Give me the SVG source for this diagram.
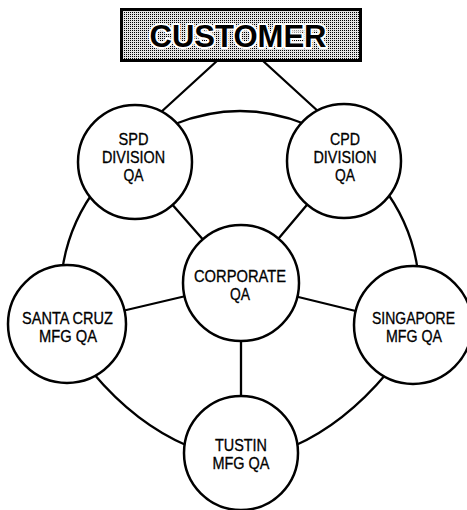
<svg xmlns="http://www.w3.org/2000/svg" width="467" height="510" viewBox="0 0 467 510">
<style>
.node{fill:#fff;stroke:#000;stroke-width:2.5}
.conn{fill:none;stroke:#000;stroke-width:2.3;stroke-linecap:round}
.lbl{font-family:"Liberation Sans",Arial,sans-serif;font-size:16px;fill:#000;stroke:#000;stroke-width:0.3;text-anchor:middle}
.title{font-family:"Liberation Sans",Arial,sans-serif;font-size:31px;font-weight:bold;fill:#000;stroke:#fff;stroke-width:4;paint-order:stroke;stroke-linejoin:round;text-anchor:middle}
</style>
<defs>
<pattern id="dots" x="0" y="0" width="2" height="2" patternUnits="userSpaceOnUse">
<rect width="2" height="2" fill="#e2e2e2"/>
<rect width="1" height="1" fill="#000"/>
</pattern>
</defs>
<rect width="467" height="510" fill="#fff"/>
<g id="connectors">
<line class="conn" x1="218" y1="60" x2="160" y2="113"/>
<line class="conn" x1="262" y1="60" x2="320" y2="113"/>
<path class="conn" d="M 175 124 Q 240 98 305 124"/>
<path class="conn" d="M 92 194 A 177 177 0 0 0 62 272"/>
<path class="conn" d="M 388 194 A 177 177 0 0 1 418 272"/>
<path class="conn" d="M 93 373 Q 136 424 188 446"/>
<path class="conn" d="M 387 373 Q 344 424 294 446"/>
<line class="conn" x1="135" y1="162" x2="241" y2="283"/>
<line class="conn" x1="344" y1="161" x2="241" y2="283"/>
<line class="conn" x1="67" y1="324" x2="241" y2="283"/>
<line class="conn" x1="413" y1="325" x2="241" y2="283"/>
<line class="conn" x1="241" y1="283" x2="241" y2="453"/>
</g>
<g id="customer">
<rect x="121.5" y="9.5" width="239" height="51" fill="url(#dots)" stroke="#000" stroke-width="3"/>
<text class="title" x="238" y="47" textLength="177" lengthAdjust="spacingAndGlyphs">CUSTOMER</text>
</g>
<g id="spd">
<circle class="node" cx="135" cy="162" r="57"/>
<text class="lbl" x="133.5" y="145" textLength="30" lengthAdjust="spacingAndGlyphs">SPD</text>
<text class="lbl" x="133.5" y="163" textLength="63" lengthAdjust="spacingAndGlyphs">DIVISION</text>
<text class="lbl" x="133.5" y="181" textLength="20" lengthAdjust="spacingAndGlyphs">QA</text>
</g>
<g id="cpd">
<circle class="node" cx="344" cy="161" r="57"/>
<text class="lbl" x="345" y="145" textLength="30" lengthAdjust="spacingAndGlyphs">CPD</text>
<text class="lbl" x="345" y="163" textLength="63" lengthAdjust="spacingAndGlyphs">DIVISION</text>
<text class="lbl" x="345" y="181" textLength="20" lengthAdjust="spacingAndGlyphs">QA</text>
</g>
<g id="corporate">
<circle class="node" cx="241" cy="283" r="58"/>
<text class="lbl" x="240" y="282" textLength="92" lengthAdjust="spacingAndGlyphs">CORPORATE</text>
<text class="lbl" x="240" y="300" textLength="20" lengthAdjust="spacingAndGlyphs">QA</text>
</g>
<g id="santacruz">
<circle class="node" cx="67" cy="324" r="59"/>
<text class="lbl" x="67.5" y="324" textLength="91" lengthAdjust="spacingAndGlyphs">SANTA CRUZ</text>
<text class="lbl" x="68" y="342" textLength="58" lengthAdjust="spacingAndGlyphs">MFG QA</text>
</g>
<g id="singapore">
<circle class="node" cx="413" cy="325" r="59"/>
<text class="lbl" x="413.5" y="324" textLength="83" lengthAdjust="spacingAndGlyphs">SINGAPORE</text>
<text class="lbl" x="414" y="342" textLength="56" lengthAdjust="spacingAndGlyphs">MFG QA</text>
</g>
<g id="tustin">
<circle class="node" cx="241" cy="453" r="57"/>
<text class="lbl" x="241" y="451" textLength="52" lengthAdjust="spacingAndGlyphs">TUSTIN</text>
<text class="lbl" x="241" y="469" textLength="57" lengthAdjust="spacingAndGlyphs">MFG QA</text>
</g>
</svg>
